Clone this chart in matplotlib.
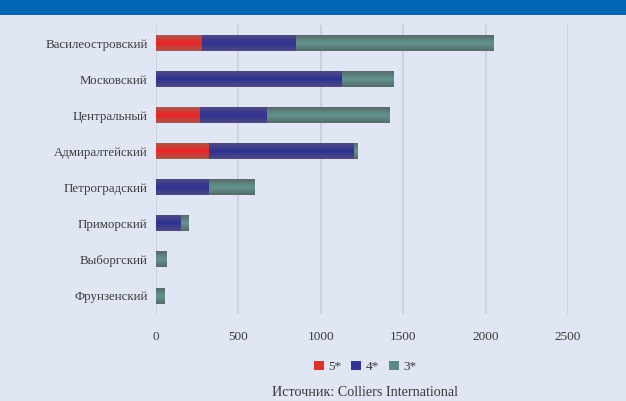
import matplotlib
matplotlib.use("Agg")
import matplotlib.pyplot as plt
import numpy as np
from matplotlib.colors import LinearSegmentedColormap
from matplotlib.patches import Rectangle, Patch

categories = ["Василеостровский", "Московский", "Центральный", "Адмиралтейский",
              "Петроградский", "Приморский", "Выборгский", "Фрунзенский"]
five_star = [280, 0, 265, 320, 0, 0, 0, 0]
four_star = [570, 1130, 410, 880, 320, 150, 0, 0]
three_star = [1200, 315, 745, 20, 275, 45, 65, 50]
series_names = ["5*", "4*", "3*"]
xticks = [0, 500, 1000, 1500, 2000, 2500]
source_text = "Источник: Colliers International"

bg = "#E1E6F4"
plt.rcParams['font.family'] = ['Liberation Serif', 'DejaVu Serif']

fig = plt.figure(figsize=(6.26, 4.01), dpi=100, facecolor=bg)
W, H = 626, 401
ax = fig.add_axes([156 / W, 1 - 314 / H, (568 - 156) / W, (314 - 25) / H])
ax.set_facecolor(bg)

# top blue band
fig.patches.append(Rectangle((0, 1 - 15 / H), 1, 15 / H, transform=fig.transFigure,
                             facecolor="#0066B3", edgecolor="none", zorder=0))

y = np.arange(len(categories))
h = 0.42
grads = {
    "5*": ["#A8584C", "#EE2224", "#A8584C"],
    "4*": ["#4F4A84", "#2E3192", "#4F4A84"],
    "3*": ["#566B6A", "#639590", "#566B6A"],
}
legend_cols = {"5*": "#D9342B", "4*": "#333594", "3*": "#5E8A85"}

left = np.zeros(len(categories))
for name, vals in zip(series_names, [five_star, four_star, three_star]):
    vals = np.array(vals, dtype=float)
    bars = ax.barh(y, vals, left=left, height=h, color=legend_cols[name],
                   edgecolor="none", zorder=2)
    cmap = LinearSegmentedColormap.from_list(name, grads[name])
    grad = np.linspace(0, 1, 64).reshape(-1, 1)
    for p, v in zip(bars.patches, vals):
        if v <= 0:
            continue
        x0, y0 = p.get_x(), p.get_y()
        ax.imshow(grad, cmap=cmap, aspect="auto", zorder=3,
                  extent=[x0, x0 + p.get_width(), y0 + p.get_height(), y0],
                  interpolation="bilinear")
    left += vals

ax.set_xlim(0, 2500)
ax.set_ylim(len(categories) - 0.5, -0.5)
ax.set_xticks(xticks)
ax.set_xticklabels([str(t) for t in xticks])
ax.set_yticks(y)
ax.set_yticklabels(categories)
ax.grid(axis="x", color="#CDD0DC", linewidth=1.3, zorder=1)
ax.set_axisbelow(True)
for s in ax.spines.values():
    s.set_visible(False)
ax.tick_params(axis="x", length=0, pad=12.5, labelsize=9.5, colors="#3a3a3a")
ax.tick_params(axis="y", length=0, pad=6, labelsize=9.3, colors="#3a3a3a")

handles = [Patch(facecolor=legend_cols[n], edgecolor="none") for n in series_names]
fig.legend(handles, series_names, loc="center", bbox_to_anchor=(365 / W, 1 - 367 / H),
           ncol=3, frameon=False, fontsize=9.5, handlelength=0.75, handleheight=0.75,
           handletextpad=0.3, columnspacing=0.8, labelcolor="#3a3a3a")
fig.text(365 / W, 1 - 393 / H, source_text, ha="center", va="center",
         fontsize=10.2, color="#3a3a3a")

fig.savefig("out.png", dpi=100, facecolor=bg)
